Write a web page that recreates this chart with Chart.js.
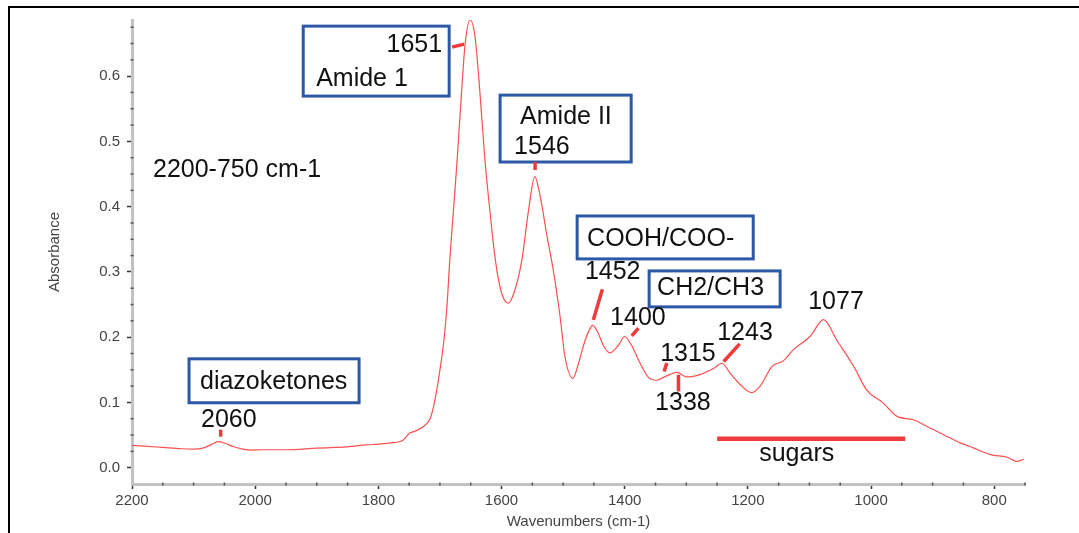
<!DOCTYPE html>
<html><head><meta charset="utf-8">
<script src="https://cdn.jsdelivr.net/npm/chart.js@4.4.1/dist/chart.umd.min.js"></script>
<style>html,body{margin:0;padding:0;background:#fff;overflow:hidden}#wrap{position:relative;width:1079px;height:533px}canvas{display:block}</style>
</head><body><div id="wrap"><canvas id="c" width="1079" height="533"></canvas></div>
<script>
// ---- data ----
const wavenumbers = [2200,2180,2150,2120,2100,2085,2072,2060,2048,2035,2020,2005,1990,1950,1900,1870,1850,1820,1800,1780,1770,1760,1749,1740,1727,1716,1710,1705,1700,1694,1689,1684,1678,1672,1665,1659,1651,1643,1635,1627,1619,1610,1600,1589,1578,1567,1556,1546,1537,1526,1516,1505,1497,1484,1475,1466,1458,1452,1443,1434,1424,1410,1400,1388,1375,1361,1348,1338,1326,1315,1299,1277,1256,1242,1229,1212,1194,1180,1161,1142,1126,1099,1077,1056,1028,1007,980,958,931,909,882,855,833,806,779,763,752];
const absorbance  = [0.034,0.033,0.031,0.029,0.0285,0.030,0.035,0.040,0.037,0.032,0.0285,0.027,0.0275,0.0275,0.030,0.031,0.032,0.035,0.036,0.038,0.039,0.042,0.053,0.056,0.063,0.075,0.095,0.12,0.15,0.191,0.242,0.318,0.395,0.472,0.574,0.65,0.686,0.66,0.574,0.472,0.395,0.318,0.268,0.252,0.273,0.318,0.395,0.446,0.415,0.354,0.303,0.232,0.170,0.137,0.160,0.190,0.210,0.218,0.206,0.186,0.176,0.188,0.201,0.186,0.160,0.138,0.134,0.138,0.143,0.146,0.139,0.143,0.152,0.160,0.145,0.127,0.115,0.125,0.155,0.164,0.181,0.201,0.227,0.196,0.155,0.119,0.099,0.0786,0.0735,0.063,0.0505,0.038,0.030,0.020,0.016,0.0097,0.013];
const xTickValues = [2200,2000,1800,1600,1400,1200,1000,800];
const xTickLabels = ['2200','2000','1800','1600','1400','1200','1000','800'];
const yTickValues = [0,0.1,0.2,0.3,0.4,0.5,0.6];
const yTickLabels = ['0.0','0.1','0.2','0.3','0.4','0.5','0.6'];

// ---- annotations (in data units) ----
const annoBoxes = [
  {x1:1922, y1:0.6766, x2:1685, y2:0.5694},
  {x1:1602.3, y1:0.5709, x2:1389.5, y2:0.4684},
  {x1:2107.4, y1:0.1668, x2:1831.3, y2:0.0995},
  {x1:1477.2, y1:0.3857, x2:1191.3, y2:0.3199},
  {x1:1360.3, y1:0.3015, x2:1147.6, y2:0.2464}
];
const annoTexts = [
  {t:'1651', x:1696.5, y:0.6475, a:'right'},
  {t:'Amide 1', x:1901, y:0.5952, a:'left'},
  {t:'Amide II', x:1569.8, y:0.5373, a:'left'},
  {t:'1546', x:1579.6, y:0.4913, a:'left'},
  {t:'2200-750 cm-1', x:2165.9, y:0.4561, a:'left'},
  {t:'diazoketones', x:1970, y:0.1316, a:'center'},
  {t:'2060', x:2088, y:0.0735, a:'left'},
  {t:'COOH/COO-', x:1461, y:0.3505, a:'left'},
  {t:'1452', x:1464.6, y:0.300, a:'left'},
  {t:'CH2/CH3', x:1347.4, y:0.2755, a:'left'},
  {t:'1400', x:1423.7, y:0.2296, a:'left'},
  {t:'1315', x:1342.4, y:0.1745, a:'left'},
  {t:'1338', x:1350.6, y:0.0995, a:'left'},
  {t:'1243', x:1249.8, y:0.2066, a:'left'},
  {t:'1077', x:1102, y:0.253, a:'left'},
  {t:'sugars', x:1181.6, y:0.0214, a:'left'}
];
const annoMarks = [
  {x1:1680.3, y1:0.6445, x2:1660.8, y2:0.649, w:3.5},
  {x1:1545.5, y1:0.4684, x2:1545.5, y2:0.4561, w:3.5},
  {x1:2056, y1:0.0582, x2:2056, y2:0.0475, w:3.5},
  {x1:1436.2, y1:0.2735, x2:1450.9, y2:0.2265, w:3.5},
  {x1:1377.7, y1:0.2138, x2:1388.5, y2:0.2020, w:3.5},
  {x1:1331.6, y1:0.1603, x2:1336, y2:0.1474, w:3.5},
  {x1:1312.7, y1:0.1424, x2:1312.7, y2:0.1168, w:3.5},
  {x1:1213.3, y1:0.1898, x2:1239.3, y2:0.1627, w:3.5},
  {x1:1249.8, y1:0.0444, x2:944.5, y2:0.0444, w:4.5}
];

const FAMILY = '"Liberation Sans", Arial, Helvetica, sans-serif';
const xAll = []; for (let v = 2200; v >= 750; v -= 50) xAll.push(v);
const yAll = []; for (let i = 0; i <= 27; i++) yAll.push(Math.round(i * 25) / 1000);
const isMajorX = v => xTickValues.indexOf(v) >= 0;
const isMajorY = v => yTickValues.some(t => Math.abs(t - v) < 1e-6);

const framePlugin = {
  id: 'frame',
  beforeDraw(chart) {
    const ctx = chart.ctx;
    ctx.save();
    ctx.fillStyle = '#fff';
    ctx.fillRect(0, 0, chart.width, chart.height);
    ctx.strokeStyle = '#000';
    ctx.lineWidth = 2;
    ctx.beginPath();
    ctx.moveTo(9, 533); ctx.lineTo(9, 7); ctx.lineTo(1079, 7);
    ctx.stroke();
    ctx.restore();
  },
  afterDraw(chart) {
    const ctx = chart.ctx;
    const xs = chart.scales.x, ys = chart.scales.y;
    ctx.save();
    ctx.fillStyle = '#555';
    xAll.forEach(v => { if (!isMajorX(v)) { const p = xs.getPixelForValue(v); ctx.fillRect(p - 0.75, xs.top - 1.5, 1.5, 3); } });
    yAll.forEach(v => { if (!isMajorY(v)) { const p = ys.getPixelForValue(v); ctx.fillRect(ys.right - 1.5, p - 0.75, 3, 1.5); } });
    ctx.restore();
  }
};

const annoPlugin = {
  id: 'anno',
  afterDatasetsDraw(chart) {
    const ctx = chart.ctx;
    const X = v => chart.scales.x.getPixelForValue(v);
    const Y = v => chart.scales.y.getPixelForValue(v);
    ctx.save();
    ctx.strokeStyle = '#2c58a6';
    ctx.lineWidth = 3;
    annoBoxes.forEach(b => {
      const x1 = X(b.x1), x2 = X(b.x2), y1 = Y(b.y1), y2 = Y(b.y2);
      ctx.fillStyle = '#fff';
      ctx.fillRect(x1, y1, x2 - x1, y2 - y1);
      ctx.strokeRect(x1, y1, x2 - x1, y2 - y1);
    });
    ctx.strokeStyle = '#ee3a3a';
    ctx.lineCap = 'butt';
    annoMarks.forEach(m => {
      ctx.lineWidth = m.w;
      ctx.beginPath();
      ctx.moveTo(X(m.x1), Y(m.y1));
      ctx.lineTo(X(m.x2), Y(m.y2));
      ctx.stroke();
    });
    ctx.fillStyle = '#111';
    ctx.font = '25px ' + FAMILY;
    ctx.textBaseline = 'middle';
    annoTexts.forEach(t => {
      ctx.textAlign = t.a;
      ctx.fillText(t.t, X(t.x), Y(t.y));
    });
    ctx.restore();
  }
};

new Chart(document.getElementById('c'), {
  type: 'line',
  data: {
    datasets: [{
      data: wavenumbers.map((w, i) => ({x: w, y: absorbance[i]})),
      borderColor: 'rgba(255,60,60,0.9)',
      borderWidth: 1.2,
      pointRadius: 0,
      cubicInterpolationMode: 'monotone',
      fill: false
    }]
  },
  options: {
    responsive: false,
    animation: false,
    devicePixelRatio: 1,
    layout: {padding: {top: 20, right: 54, bottom: 0, left: 0}},
    plugins: {legend: {display: false}, tooltip: {enabled: false}},
    scales: {
      x: {
        type: 'linear', reverse: true, min: 750, max: 2200,
        afterBuildTicks: s => { s.ticks = xAll.map(v => ({value: v})); },
        afterFit: s => { s.height = 49; },
        ticks: {
          autoSkip: false, maxRotation: 0, padding: 3, color: '#444',
          font: {size: 15, family: FAMILY},
          callback: v => { const i = xTickValues.indexOf(v); return i >= 0 ? xTickLabels[i] : ''; }
        },
        grid: {drawOnChartArea: false, drawTicks: true, tickLength: 5, tickWidth: 1.5,
          tickColor: c => (c.tick && isMajorX(c.tick.value)) ? '#333' : 'rgba(0,0,0,0)'},
        border: {color: '#c2c2c2', width: 3},
        title: {display: true, text: 'Wavenumbers (cm-1)', color: '#444', font: {size: 15, family: FAMILY}, padding: {top: 0, bottom: 2}}
      },
      y: {
        type: 'linear', min: -0.025, max: 0.686,
        afterBuildTicks: s => { s.ticks = yAll.map(v => ({value: v})); },
        afterFit: s => { s.width = 132; },
        ticks: {
          autoSkip: false, padding: 7, color: '#444',
          font: {size: 15, family: FAMILY},
          callback: v => { const i = yTickValues.findIndex(t => Math.abs(t - v) < 1e-6); return i >= 0 ? yTickLabels[i] : ''; }
        },
        grid: {drawOnChartArea: false, drawTicks: true, tickLength: 5, tickWidth: 1.5,
          tickColor: c => (c.tick && isMajorY(c.tick.value)) ? '#333' : 'rgba(0,0,0,0)'},
        border: {color: '#c2c2c2', width: 3},
        title: {display: true, text: 'Absorbance', color: '#444', font: {size: 15, family: FAMILY}, padding: {top: 46, bottom: 0}}
      }
    }
  },
  plugins: [framePlugin, annoPlugin]
});
</script>
</body></html>
